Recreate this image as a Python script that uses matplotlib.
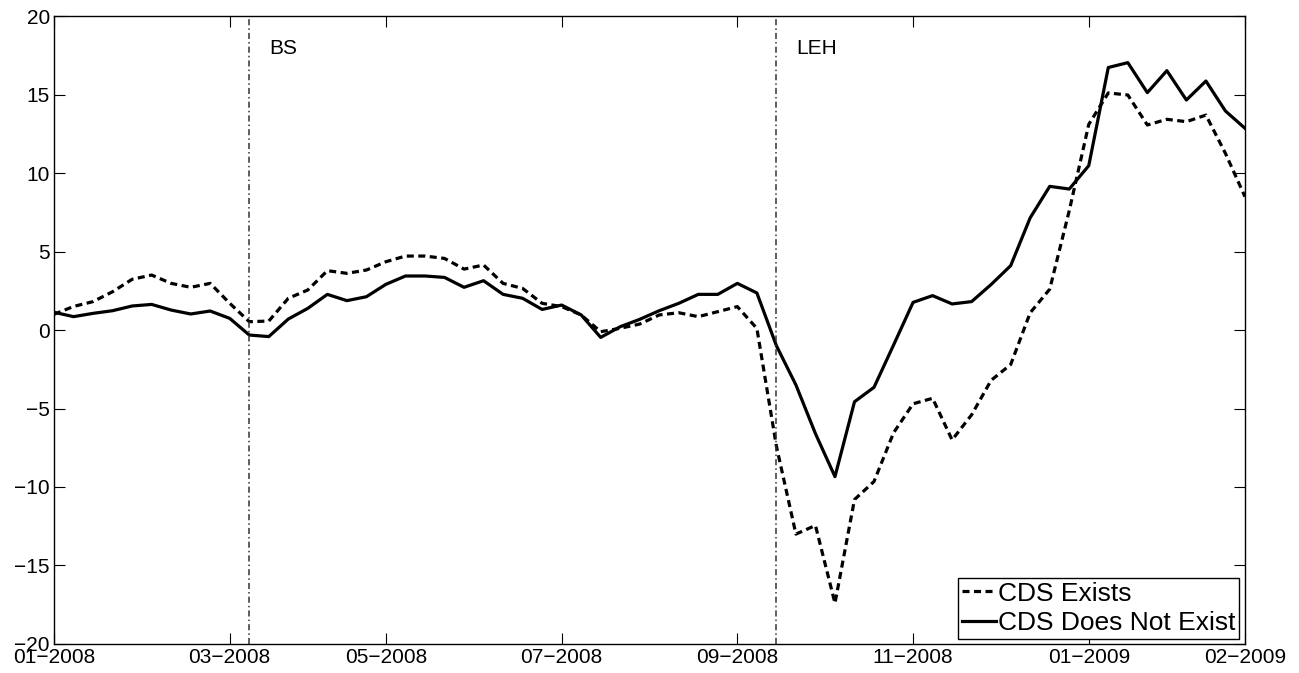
import numpy as np
import matplotlib
matplotlib.use('Agg')
import matplotlib.pyplot as plt

## plt config
plt.rcParams['font.family'] = ['Liberation Sans', 'DejaVu Sans']
plt.rcParams['axes.unicode_minus'] = True

## data (weekly index)
cds_exists = [1.0, 1.5, 1.81, 2.44, 3.23, 3.50, 2.97, 2.72, 2.97, 1.70,
              0.53, 0.57, 2.02, 2.55, 3.78, 3.61, 3.82, 4.35, 4.71, 4.71,
              4.56, 3.88, 4.14, 2.97, 2.65, 1.70, 1.49, 0.96, -0.11, 0.11,
              0.38, 0.96, 1.10, 0.85, 1.17, 1.49, 0.1, -7.4, -13.0, -12.45,
              -17.4, -10.8, -9.65, -6.55, -4.7, -4.35, -7.0, -5.4, -3.2, -2.2,
              1.1, 2.6, 7.6, 13.1, 15.1, 14.97, 13.06, 13.42, 13.27, 13.69,
              11.25, 8.49]
cds_not_exists = [1.13, 0.85, 1.06, 1.23, 1.53, 1.63, 1.27, 1.02, 1.21, 0.74,
                  -0.32, -0.42, 0.70, 1.38, 2.27, 1.87, 2.12, 2.91, 3.44, 3.44,
                  3.35, 2.72, 3.14, 2.27, 2.02, 1.31, 1.59, 0.96, -0.47, 0.21,
                  0.68, 1.23, 1.70, 2.27, 2.27, 2.97, 2.36, -1.0, -3.5, -6.6,
                  -9.34, -4.57, -3.65, -0.96, 1.76, 2.19, 1.66, 1.81, 2.9, 4.1,
                  7.15, 9.15, 8.98, 10.47, 16.72, 17.03, 15.12, 16.52, 14.65, 15.86,
                  13.95, 12.85]
tick_idx = [0, 9, 17, 26, 35, 44, 53, 61]
tick_labels = ['01\u22122008', '03\u22122008', '05\u22122008', '07\u22122008',
               '09\u22122008', '11\u22122008', '01\u22122009', '02\u22122009']
events = ['BS', 'LEH']
event_idx = [10, 37]

x = np.arange(len(cds_exists))

## visualization
fig = plt.figure(figsize=(12.99, 6.73), dpi=100)
ax = fig.add_axes([0.0416, 0.0431, 0.9168, 0.9331])

ax.plot(x, cds_exists, color='black', lw=2.3, dashes=(2.2, 1.4), label='CDS Exists')
ax.plot(x, cds_not_exists, color='black', lw=2.3, label='CDS Does Not Exist')

for e, i in zip(events, event_idx):
    ax.axvline(i, color='#333333', lw=1.1, linestyle=(0, (4, 2, 1, 2)))
    ax.text(i + 1, 17.95, e, fontsize=15, ha='left', va='center')

ax.set_xlim(0, len(x) - 1)
ax.set_ylim(-20, 20)
ax.set_yticks(np.arange(-20, 21, 5))
ax.set_xticks(tick_idx)
ax.set_xticklabels(tick_labels)
ax.tick_params(direction='in', length=8, width=0.8, top=True, right=True,
               labelsize=15, pad=3)
for s in ax.spines.values():
    s.set_linewidth(1.0)

leg = ax.legend(loc='lower right', bbox_to_anchor=(0.995, 0.008), fontsize=19,
                fancybox=False, framealpha=1, edgecolor='black',
                handlelength=1.3, handletextpad=0.05, borderpad=0.15,
                labelspacing=0.2, borderaxespad=0)
leg.get_frame().set_linewidth(1.0)

plt.savefig('out.png', dpi=100)
